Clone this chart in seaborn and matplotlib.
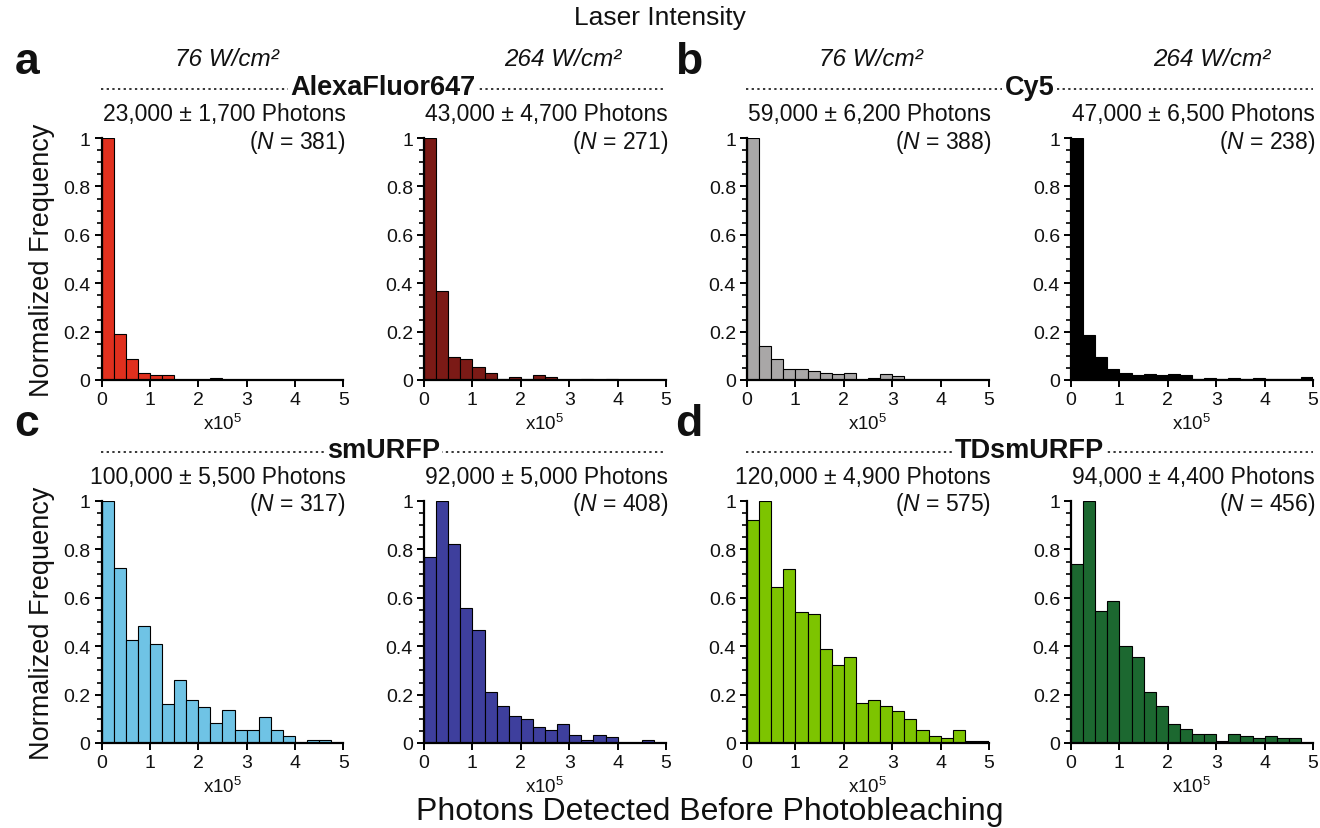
import matplotlib
matplotlib.use("Agg")
import matplotlib.pyplot as plt
import seaborn as sns
import numpy as np
from matplotlib.lines import Line2D
from matplotlib.ticker import MultipleLocator, FuncFormatter

# ---------------- data (normalized frequency per 0.25x10^5-photon bin) ----------------
bin_edges = [0.0, 0.25, 0.5, 0.75, 1.0, 1.25, 1.5, 1.75, 2.0, 2.25, 2.5,
             2.75, 3.0, 3.25, 3.5, 3.75, 4.0, 4.25, 4.5, 4.75, 5.0]

alexa_76 = [1.0, 0.19, 0.085, 0.028, 0.021, 0.021, 0, 0, 0, 0.01,
            0, 0, 0, 0, 0, 0, 0, 0, 0, 0]
alexa_264 = [1.0, 0.367, 0.094, 0.085, 0.055, 0.03, 0.005, 0.014, 0.005, 0.019,
             0.014, 0, 0, 0.005, 0, 0.005, 0, 0, 0, 0]
cy5_76 = [1.0, 0.142, 0.087, 0.047, 0.047, 0.036, 0.028, 0.023, 0.03, 0,
          0.008, 0.023, 0.016, 0, 0, 0, 0, 0, 0, 0]
cy5_264 = [1.0, 0.185, 0.095, 0.047, 0.03, 0.019, 0.025, 0.019, 0.025, 0.019,
           0.003, 0.007, 0.003, 0.007, 0.003, 0.007, 0.003, 0.003, 0.003, 0.014]
smurfp_76 = [1.0, 0.725, 0.424, 0.482, 0.41, 0.163, 0.26, 0.178, 0.149, 0.083,
             0.136, 0.055, 0.055, 0.107, 0.055, 0.028, 0, 0.014, 0.014, 0]
smurfp_264 = [0.767, 1.0, 0.822, 0.556, 0.466, 0.212, 0.153, 0.110, 0.099, 0.065,
              0.055, 0.077, 0.032, 0.011, 0.032, 0.023, 0, 0, 0.011, 0]
tdsmurfp_76 = [0.921, 1.0, 0.643, 0.719, 0.543, 0.532, 0.387, 0.321, 0.354, 0.167,
               0.176, 0.154, 0.132, 0.099, 0.055, 0.030, 0.022, 0.055, 0.01, 0.01]
tdsmurfp_264 = [0.738, 1.0, 0.547, 0.585, 0.402, 0.354, 0.212, 0.152, 0.077, 0.058,
                0.037, 0.037, 0.007, 0.037, 0.028, 0.019, 0.028, 0.019, 0.019, 0]

photon_labels = ["23,000 ± 1,700 Photons", "43,000 ± 4,700 Photons",
                 "59,000 ± 6,200 Photons", "47,000 ± 6,500 Photons",
                 "100,000 ± 5,500 Photons", "92,000 ± 5,000 Photons",
                 "120,000 ± 4,900 Photons", "94,000 ± 4,400 Photons"]
n_values = [381, 271, 388, 238, 317, 408, 575, 456]
dye_names = ["AlexaFluor647", "Cy5", "smURFP", "TDsmURFP"]
panel_letters = ["a", "b", "c", "d"]
intensities = ["76 W/cm²", "264 W/cm²"]
x_ticks = [0, 1, 2, 3, 4, 5]
y_ticks = [0, 0.2, 0.4, 0.6, 0.8, 1.0]

series = [alexa_76, alexa_264, cy5_76, cy5_264,
          smurfp_76, smurfp_264, tdsmurfp_76, tdsmurfp_264]
colors = ["#E0301E", "#7B1A16", "#A9A7A7", "#000000",
          "#6FC3E5", "#3E3F9D", "#7DC400", "#1C6830"]

# ---------------- style ----------------
sns.set_theme(style="ticks")
plt.rcParams['font.family'] = ['Liberation Sans', 'DejaVu Sans']
plt.rcParams['mathtext.fontset'] = 'custom'
plt.rcParams['mathtext.rm'] = 'Liberation Sans'
plt.rcParams['mathtext.it'] = 'Liberation Sans:italic'
plt.rcParams['mathtext.bf'] = 'Liberation Sans:bold'

W, H = 1320, 829
fig = plt.figure(figsize=(W / 100, H / 100), dpi=100)


def ftext(x, y, s, **kw):
    return fig.text(x / W, 1 - y / H, s, **kw)


col_x = [101.5, 424, 747, 1071]
row_top = [139, 502]
ax_w, ax_h = 242, 242
centers = [(a + b) / 2 for a, b in zip(bin_edges[:-1], bin_edges[1:])]

for i, (vals, col) in enumerate(zip(series, colors)):
    r, c = divmod(i, 4)
    left = col_x[c] / W
    bottom = 1 - (row_top[r] + ax_h) / H
    ax = fig.add_axes([left, bottom, ax_w / W, ax_h / H])
    sns.histplot(x=centers, weights=vals, bins=bin_edges, ax=ax, color=col,
                 edgecolor="black", linewidth=0.8, alpha=1)
    ax.set_xlim(0, 5)
    ax.set_ylim(0, 1)
    ax.set_xlabel("")
    ax.set_ylabel("")
    sns.despine(ax=ax)
    for sp in ["left", "bottom"]:
        ax.spines[sp].set_linewidth(1.6)
        ax.spines[sp].set_color("black")
    ax.set_xticks(x_ticks)
    ax.set_yticks(y_ticks)
    ax.yaxis.set_minor_locator(MultipleLocator(0.05))
    ax.yaxis.set_major_formatter(FuncFormatter(
        lambda v, p: "0" if abs(v) < 1e-9 else ("1" if abs(v - 1) < 1e-9 else f"{v:.1f}")))
    ax.tick_params(axis="both", which="major", direction="out", length=5, width=1.4,
                   labelsize=14, pad=3, color="black", labelcolor="#111111")
    ax.tick_params(axis="y", which="minor", direction="out", length=3.5, width=1.2,
                   color="black")
    ax.patch.set_alpha(0)

    x_center = col_x[c] + ax_w / 2
    x_right = col_x[c] + ax_w
    dy = 363 * r
    ftext(x_right + 2, 115 + dy, photon_labels[i], ha="right", va="center",
          fontsize=16.5, color="#111111")
    ftext(x_right + 2, 142 + dy, r"($\mathit{N}$ = %d)" % n_values[i], ha="right",
          va="center", fontsize=16.5, color="#111111")
    ftext(x_center, 424 + dy, r"x10$^5$", ha="center", va="center", fontsize=13.5,
          color="#111111")

# dye headers with dotted lines
for j, name in enumerate(dye_names):
    r, c = divmod(j, 2)
    x0 = col_x[2 * c] - 1
    x1 = col_x[2 * c + 1] + ax_w
    y = 90 + 363 * r
    fig.add_artist(Line2D([x0 / W, x1 / W], [1 - y / H, 1 - y / H],
                          transform=fig.transFigure, color="black", lw=1.1,
                          linestyle=(0, (1.5, 2.2))))
    ftext((x0 + x1) / 2, y - 2, name, ha="center", va="center", fontsize=19.5,
          fontweight="bold", color="#111111",
          bbox=dict(facecolor="white", edgecolor="none", pad=1.5))
    ftext(27 + 662 * c, 62 + 363 * r, panel_letters[j], ha="center", va="center",
          fontsize=32, fontweight="bold", color="#111111")

# intensity labels (top row only)
int_offsets = [4, 18, 3, 20]
for c in range(4):
    ftext(col_x[c] + ax_w / 2 + int_offsets[c], 60, intensities[c % 2],
          ha="center", va="center", fontsize=17.5, style="italic", color="#111111")

ftext(660, 18, "Laser Intensity", ha="center", va="center", fontsize=19,
      color="#111111")
ftext(710, 812, "Photons Detected Before Photobleaching", ha="center", va="center",
      fontsize=23, color="#111111")
for r in range(2):
    ftext(42, row_top[r] + ax_h / 2, "Normalized Frequency", ha="center",
          va="center", rotation=90, fontsize=19.5, color="#111111")

fig.savefig("out.png", dpi=100)
